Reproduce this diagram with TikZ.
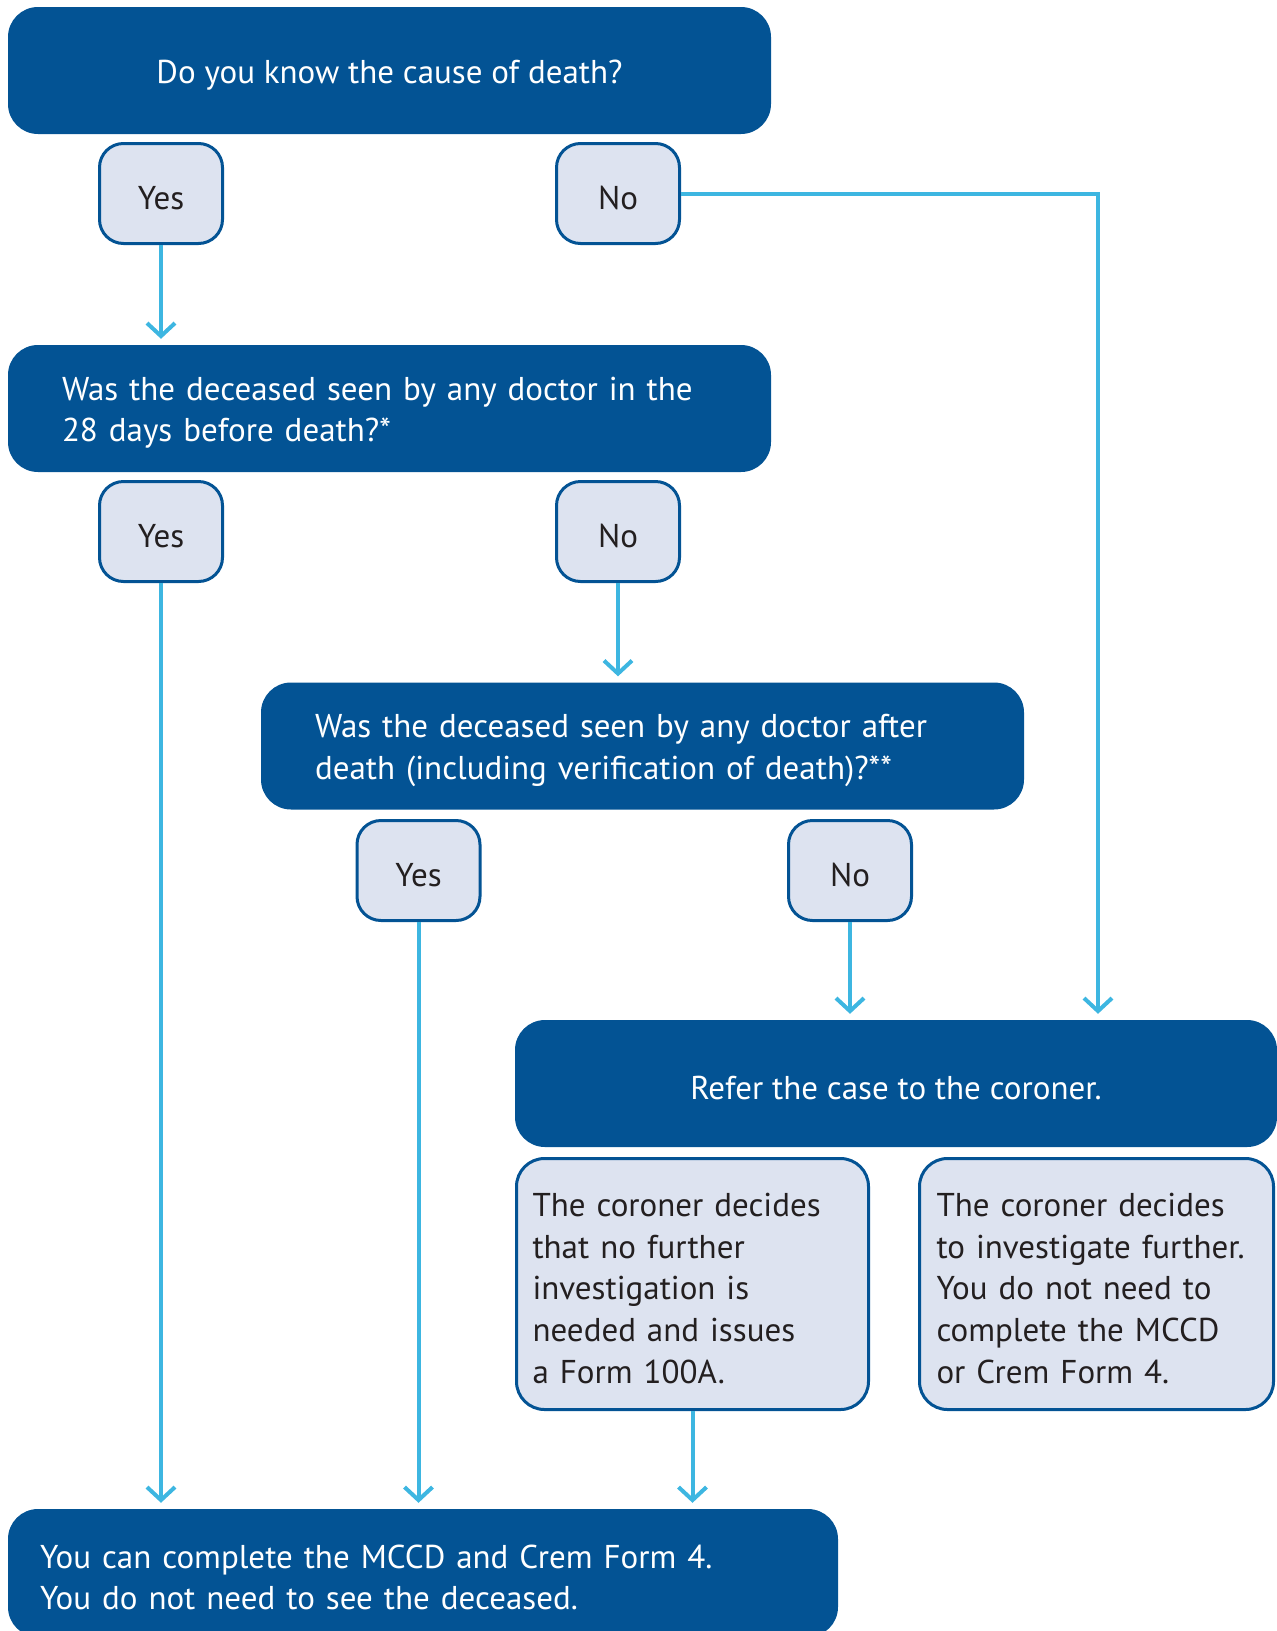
\documentclass[tikz,border=0pt]{standalone}
\usepackage{fontspec}
\setmainfont{PT Sans}
\usetikzlibrary{arrows.meta}
\definecolor{darkblue}{HTML}{035394}
\definecolor{paleblue}{HTML}{DDE3F0}
\definecolor{flowblue}{HTML}{3DB6E1}
\definecolor{inkblack}{HTML}{231F20}
\tikzset{
  boxfont/.style={font=\fontsize{33}{41.6}\selectfont, execute at begin node={\rule{0pt}{32pt}}},
  question/.style={rectangle, rounded corners=30pt, fill=darkblue, text=white, boxfont, minimum height=127pt, inner sep=0pt},
  answer/.style={rectangle, rounded corners=24pt, draw=darkblue, line width=3pt, fill=paleblue, text=inkblack, boxfont, minimum width=123pt, minimum height=100pt},
  outcome/.style={rectangle, rounded corners=28pt, draw=darkblue, line width=3pt, fill=paleblue, text=inkblack, boxfont, minimum height=251pt, inner sep=0pt, align=left},
  flow/.style={flowblue, line width=4pt, -{Straight Barb[length=13pt,width=28pt]}, shorten >=6pt}
}
\begin{document}
\begin{tikzpicture}[x=1pt,y=-1pt]
\useasboundingbox (0,0) rectangle (1277,1631);
% questions
\node[question, minimum width=763pt] (cause) at (389.5,70.5){Do you know the cause of death?};
\node[question, minimum width=763pt, text width=655pt, align=left] (seen) at (389.5,408.5){Was the deceased seen by any doctor in the\\28 days before death?*};
\node[question, minimum width=763pt, text width=655pt, align=left] (after) at (642.5,746){Was the deceased seen by any doctor after\\death (including verification of death)?**};
\node[question, minimum width=762pt] (coroner) at (896,1083.5){Refer the case to the coroner.};
% answers
\node[answer] (yes1) at (161,193.5){Yes};
\node[answer] (no1) at (618,193.5){No};
\node[answer] (yes2) at (161,531.5){Yes};
\node[answer] (no2) at (618,531.5){No};
\node[answer] (yes3) at (418.5,870.5){Yes};
\node[answer] (no3) at (850,870.5){No};
% coroner outcomes
\node[outcome, minimum width=352pt, text width=320pt] (nofurther) at (692.5,1284){The coroner decides\\that no further\\investigation is\\needed and issues\\a Form 100A.};
\node[outcome, minimum width=354pt, text width=320pt] (further) at (1096.5,1284){The coroner decides\\to investigate further.\\You do not need to\\complete the MCCD\\or Crem Form 4.};
\node[question, minimum width=830pt, minimum height=128pt, text width=766pt, align=left] (complete) at (423,1573){You can complete the MCCD and Crem Form 4.\\You do not need to see the deceased.};
% connectors
\coordinate (bend) at (1098,193.5);
\draw[flow] (yes1) -- (yes1 |- seen.north);
\draw[flow] (no1.east) -- (bend) -- (bend |- coroner.north);
\draw[flow] (no2) -- (no2 |- after.north);
\draw[flow] (yes2) -- (yes2 |- complete.north);
\draw[flow] (yes3) -- (yes3 |- complete.north);
\draw[flow] (no3) -- (no3 |- coroner.north);
\draw[flow] (nofurther) -- (nofurther |- complete.north);
\end{tikzpicture}
\end{document}
